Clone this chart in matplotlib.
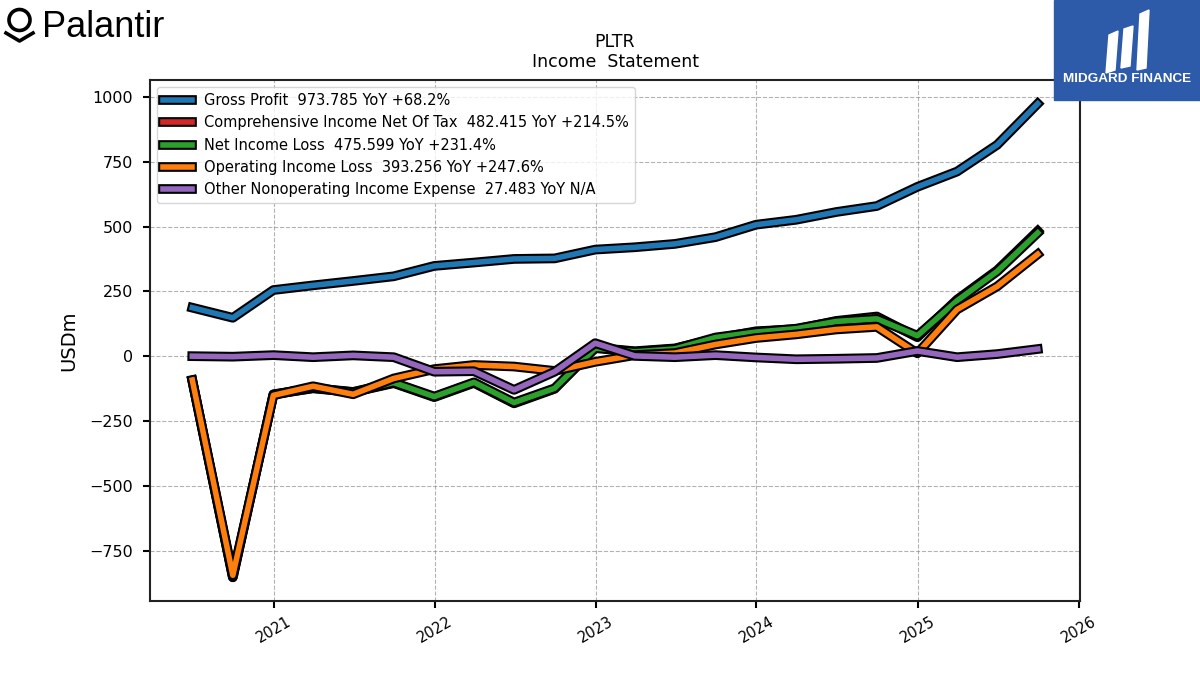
import matplotlib
matplotlib.use("Agg")
import matplotlib.pyplot as plt
import matplotlib.dates as mdates
import matplotlib.patheffects as pe
from matplotlib.patches import Rectangle, Circle, Polygon
from matplotlib.lines import Line2D
import pandas as pd

quarters = ["2020-06-30", "2020-09-30", "2020-12-31", "2021-03-31", "2021-06-30",
            "2021-09-30", "2021-12-31", "2022-03-31", "2022-06-30", "2022-09-30",
            "2022-12-31", "2023-03-31", "2023-06-30", "2023-09-30", "2023-12-31",
            "2024-03-31", "2024-06-30", "2024-09-30", "2024-12-31", "2025-03-31",
            "2025-06-30", "2025-09-30"]

gross_profit = [187, 148, 255, 273, 290, 308, 348, 361, 375, 377, 411, 420,
                433, 459, 507, 526, 556, 579, 653, 712, 815, 973.785]
comprehensive_income = [-94, -852, -147, -124, -139, -104, -158, -103, -182, -126, 33, 19,
                        30, 68, 96, 104, 136, 153, 73, 218, 331, 482.415]
net_income = [-94, -853, -148, -123, -138, -102, -156, -101, -179, -124, 31, 17,
              28, 72, 93, 106, 134, 144, 79, 214, 327, 475.599]
operating_income = [-92, -845, -151, -116, -147, -86, -50, -34, -40, -57, -22, 4,
                    12, 45, 70, 84, 103, 113, 11, 180, 269, 393.256]
other_nonoperating = [0, -2, 4, -4, 3, -4, -60, -58, -130, -60, 50, 1,
                      -4, 4, -5, -12, -10, -7, 20, -4, 8, 27.483]

labels = ["Gross Profit  973.785 YoY +68.2%",
          "Comprehensive Income Net Of Tax  482.415 YoY +214.5%",
          "Net Income Loss  475.599 YoY +231.4%",
          "Operating Income Loss  393.256 YoY +247.6%",
          "Other Nonoperating Income Expense  27.483 YoY N/A"]
colors = ["#1f77b4", "#d62728", "#2ca02c", "#ff7f0e", "#9467bd"]
values = [gross_profit, comprehensive_income, net_income, operating_income, other_nonoperating]

dates = pd.to_datetime(quarters)

fig = plt.figure(figsize=(12, 6.75), dpi=100)
ax = fig.add_axes([0.125, 0.1096, 0.775, 0.7719])

for label, vals, color in zip(labels, values, colors):
    ax.plot(dates, vals, color=color, lw=4, label=label,
            path_effects=[pe.Stroke(linewidth=7, foreground="black"), pe.Normal()])

ax.set_title("PLTR\nIncome  Statement", fontsize=12.5, pad=9)
ax.set_ylabel("USDm", fontsize=14, labelpad=8)
ax.grid(True, linestyle="--", color="gray", alpha=0.6, linewidth=0.8)
ax.xaxis.set_major_locator(mdates.YearLocator())
ax.xaxis.set_major_formatter(mdates.DateFormatter("%Y"))
ax.tick_params(length=5, width=1.5, pad=7)
ax.tick_params(axis="x", pad=4)
plt.setp(ax.get_xticklabels(), rotation=30, fontsize=10.5)
plt.setp(ax.get_yticklabels(), fontsize=11.5)
for s in ax.spines.values():
    s.set_linewidth(1.5)
    s.set_color("#222222")
ax.legend(loc="upper left", fontsize=10.5)

# logos drawn in pixel coordinates on an overlay
ov = fig.add_axes([0, 0, 1, 1])
ov.set_xlim(0, 1200)
ov.set_ylim(675, 0)
ov.axis("off")

ov.add_patch(Circle((19.5, 20), 10.5, fill=False, lw=2.6, color="black"))
ov.add_line(Line2D([6, 19.5, 33], [33, 41, 33], lw=2.6, color="black"))
ov.text(42, 37, "Palantir", fontsize=26, family="Liberation Sans", color="black",
        va="baseline")

ov.add_patch(Rectangle((1054, 0), 146, 100, color="#2d5ba9"))
ov.add_patch(Polygon([(1106, 73), (1115, 70), (1118, 31), (1109, 35)], color="white"))
ov.add_patch(Polygon([(1121, 68), (1130, 66), (1133, 26), (1124, 29)], color="white"))
ov.add_patch(Polygon([(1137, 70), (1146, 68), (1149, 10), (1140, 14)], color="white"))
ov.text(1127, 82, "MIDGARD FINANCE", fontsize=9.7, family="Liberation Sans",
        fontweight="bold", color="white", ha="center", va="baseline")

fig.savefig("out.png", dpi=100)
